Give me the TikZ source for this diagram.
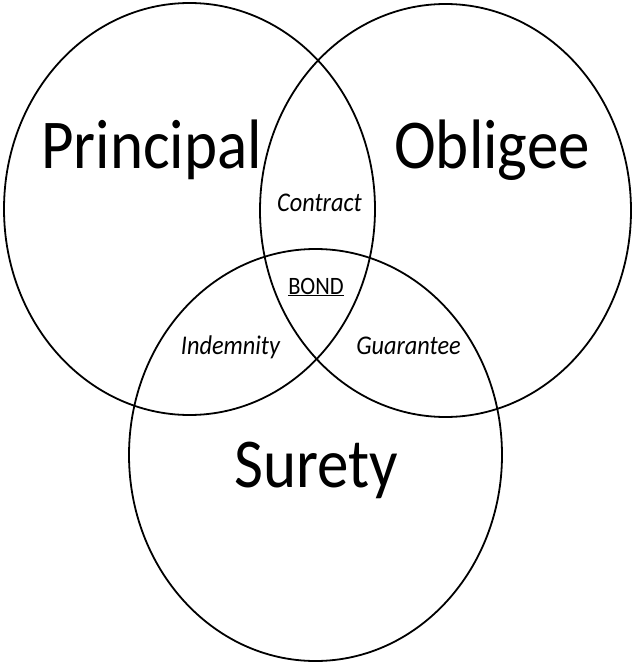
\documentclass[tikz,border=0pt]{standalone}
\usepackage{fontspec}
\setmainfont[FakeStretch=0.9]{Carlito}
\tikzset{
  every node/.style={
    text=black, inner sep=0pt
  },
  party/.style={font=\fontsize{70}{70}\selectfont, anchor=base},
  link/.style={font=\fontsize{27}{27}\selectfont\itshape, anchor=base},
  set/.style={draw, line width=1.8pt}
}

\begin{document}
\begin{tikzpicture}[x=1pt,y=-1pt]
    \useasboundingbox (0,0) rectangle (633,663);
    %\draw[gray, very thin] (0,0) grid[step=50] (633,663);

    \coordinate (P) at (189.5,209);
    \coordinate (O) at (445.5,210.5);
    \coordinate (S) at (315.5,455);
    \draw [set] (P) ellipse [x radius=185.5pt, y radius=206pt];
    \draw [set] (O) ellipse [x radius=185.5pt, y radius=206.5pt];
    \draw [set] (S) ellipse [x radius=186.5pt, y radius=206pt];

    \node [party] (principal) at (151.5,168) {Principal};
    \node [party] (obligee) at (492,168) {Obligee};
    \node [party] (surety) at (316,487) {Surety};

    \node [link] (contract) at (319.5,211) {Contract};
    \node [link] (indemnity) at (230.5,354) {Indemnity};
    \node [link] (guarantee) at (408.5,354) {Guarantee};
    \node [link, font=\fontsize{25}{25}\selectfont] (bond) at (316,294) {\underline{BOND}};
\end{tikzpicture}
\end{document}
